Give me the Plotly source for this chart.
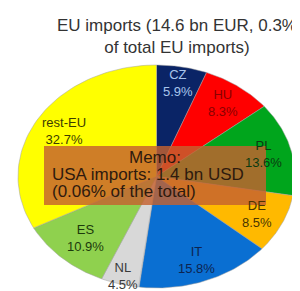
import numpy as np
import plotly.graph_objects as go

countries = ["CZ", "HU", "PL", "DE", "IT", "NL", "ES", "rest-EU"]
shares = [5.9, 8.3, 13.6, 8.5, 15.8, 4.5, 10.9, 32.7]
colors = ["#0a2466", "#ff0000", "#00a51c", "#ffb900", "#0a6fd2", "#d8d8d8", "#8fd14e", "#ffff00"]
label_colors = ["#a8c4ec", "#8a0000", "#0a3a10", "#4a3600", "#0d2450", "#3a3a3a", "#1c3a0c", "#3c3c00"]
label_r = [0.85, 0.82, 0.8, 0.8, 0.8, 0.925, 0.75, 0.78]

title_text = "EU imports (14.6 bn EUR, 0.3%<br>of total EU imports)"
memo_lines = ["Memo:", "USA imports: 1.4 bn USD", "(0.06% of the total)"]

# pixel geometry of the ellipse
W, H = 300, 291
cx, cy, rx, ry = 148.5, 168.5, 138.5, 111.5
x_range = [-cx / rx, (W - cx) / rx]
y_range = [-(H - cy) / ry, cy / ry]

FONT = "Liberation Sans, Arial"
fig = go.Figure()
total = sum(shares)
start = 90.0
mids = []
for name, s, col in zip(countries, shares, colors):
    sweep = s / total * 360.0
    ang = np.radians(np.linspace(start, start - sweep, 60))
    xs = np.concatenate([[0], np.cos(ang), [0]])
    ys = np.concatenate([[0], np.sin(ang), [0]])
    fig.add_trace(go.Scatter(x=xs, y=ys, fill="toself", fillcolor=col, mode="lines",
                             line=dict(color="#a0a0a0", width=0.5), hoverinfo="skip",
                             showlegend=False, name=name))
    mids.append(np.radians(start - sweep / 2))
    start -= sweep

for name, s, m, r, lc in zip(countries, shares, mids, label_r, label_colors):
    fig.add_annotation(x=r * np.cos(m), y=r * np.sin(m), text=f"{name}<br>{s:.1f}%",
                       showarrow=False, borderpad=0,
                       font=dict(family=FONT, size=13, color=lc),
                       xref="x", yref="y")

# memo box
fig.add_shape(type="rect", xref="paper", yref="paper",
              x0=36 / W, x1=258 / W, y0=1 - 197 / H, y1=1 - 138 / H,
              fillcolor="rgba(196,98,48,0.82)", line=dict(width=0))
memo_font = dict(family=FONT, size=17, color="#2e1a0e")
fig.add_annotation(xref="paper", yref="paper", x=147 / W, y=1 - 149.5 / H, text=memo_lines[0],
                   showarrow=False, borderpad=0, xanchor="center", yanchor="middle", font=memo_font)
fig.add_annotation(xref="paper", yref="paper", x=43 / W, y=1 - 166.5 / H, text=memo_lines[1],
                   showarrow=False, borderpad=0, xanchor="left", yanchor="middle", font=memo_font)
fig.add_annotation(xref="paper", yref="paper", x=43 / W, y=1 - 183.5 / H, text=memo_lines[2],
                   showarrow=False, borderpad=0, xanchor="left", yanchor="middle", font=memo_font)

fig.add_annotation(xref="paper", yref="paper", x=169 / W, y=1 - 29 / H, text=title_text,
                   showarrow=False, xanchor="center", yanchor="middle",
                   font=dict(family=FONT, size=17, color="#333333"))

fig.update_layout(width=W, height=H, margin=dict(l=0, r=0, t=0, b=0),
                  paper_bgcolor="white", plot_bgcolor="white",
                  xaxis=dict(range=x_range, visible=False, fixedrange=True),
                  yaxis=dict(range=y_range, visible=False, fixedrange=True))
fig.write_html("out.html")
